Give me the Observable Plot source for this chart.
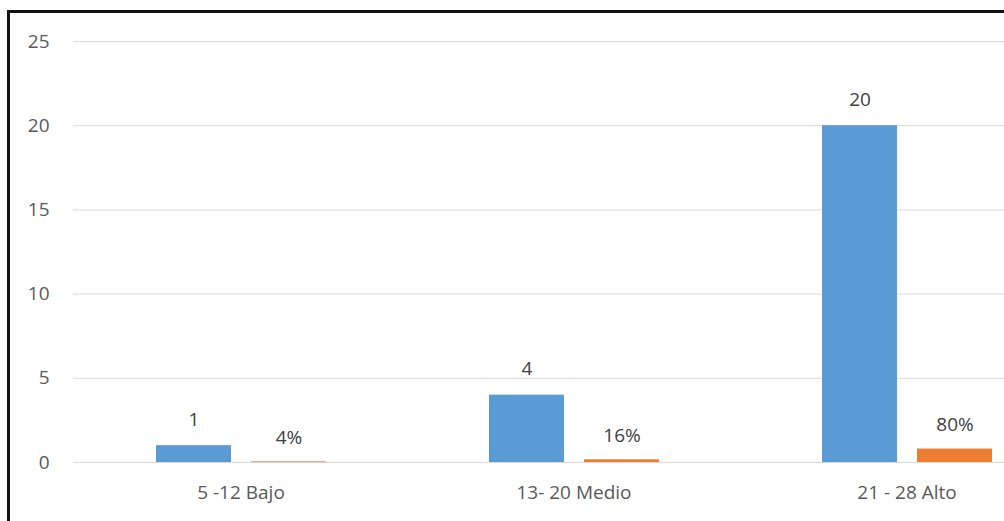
<!DOCTYPE html>
<html>
<head>
<meta charset="utf-8">
<script src="https://cdn.jsdelivr.net/npm/d3@7"></script>
<script src="https://cdn.jsdelivr.net/npm/@observablehq/plot@0.6"></script>
<style>
  html, body { margin: 0; padding: 0; background: #fff; }
  #wrap { position: relative; width: 1004px; height: 521px; overflow: hidden; background: #fff; }
  #border { position: absolute; left: 7px; top: 10px; right: -10px; bottom: -10px; border-left: 3px solid #111; border-top: 3px solid #111; pointer-events: none; }
  #chart { position: absolute; left: 0; top: 0; }
</style>
</head>
<body>
<div id="wrap"><div id="chart"></div><div id="border"></div></div>
<script>
const categories = ["5 -12 Bajo", "13- 20 Medio", "21 - 28 Alto"];
const frecuencia = [1, 4, 20];
const porcentaje = [0.04, 0.16, 0.80];
const yTicks = [0, 5, 10, 15, 20, 25];

const freqData = categories.map((c, i) => ({cat: c, value: frecuencia[i], label: String(frecuencia[i])}));
const pctData = categories.map((c, i) => ({cat: c, value: porcentaje[i], label: Math.round(porcentaje[i] * 100) + "%"}));

const font = "'Open Sans', sans-serif";
const fs = 19;

const chart = Plot.plot({
  width: 1004,
  height: 521,
  marginLeft: 73,
  marginRight: 0,
  marginTop: 41,
  marginBottom: 59,
  style: {fontFamily: font, fontSize: fs + "px", color: "#595959", background: "transparent"},
  x: {domain: categories, range: [74, 1073], padding: 0},
  y: {domain: [0, 25]},
  marks: [
    Plot.gridY(yTicks, {stroke: "#d9d9d9", strokeOpacity: 1, strokeWidth: 1}),
    Plot.axisY(yTicks, {tickSize: 0, tickPadding: 24, fill: "#595959", fontSize: fs, label: null}),
    Plot.axisX({tickSize: 0, tickPadding: 23, fill: "#595959", fontSize: fs, label: null}),
    Plot.barY(freqData, {x: "cat", y: "value", fill: "#5B9BD5", insetLeft: 82, insetRight: 176}),
    Plot.barY(pctData, {x: "cat", y: "value", fill: "#ED7D31", insetLeft: 177, insetRight: 81}),
    Plot.text(freqData, {x: "cat", y: "value", text: "label", dx: -47, dy: -26, lineAnchor: "middle", fill: "#404040", fontSize: fs}),
    Plot.text(pctData, {x: "cat", y: "value", text: "label", dx: 48, dy: -24, lineAnchor: "middle", fill: "#404040", fontSize: fs})
  ]
});
document.getElementById("chart").appendChild(chart);
</script>
</body>
</html>
